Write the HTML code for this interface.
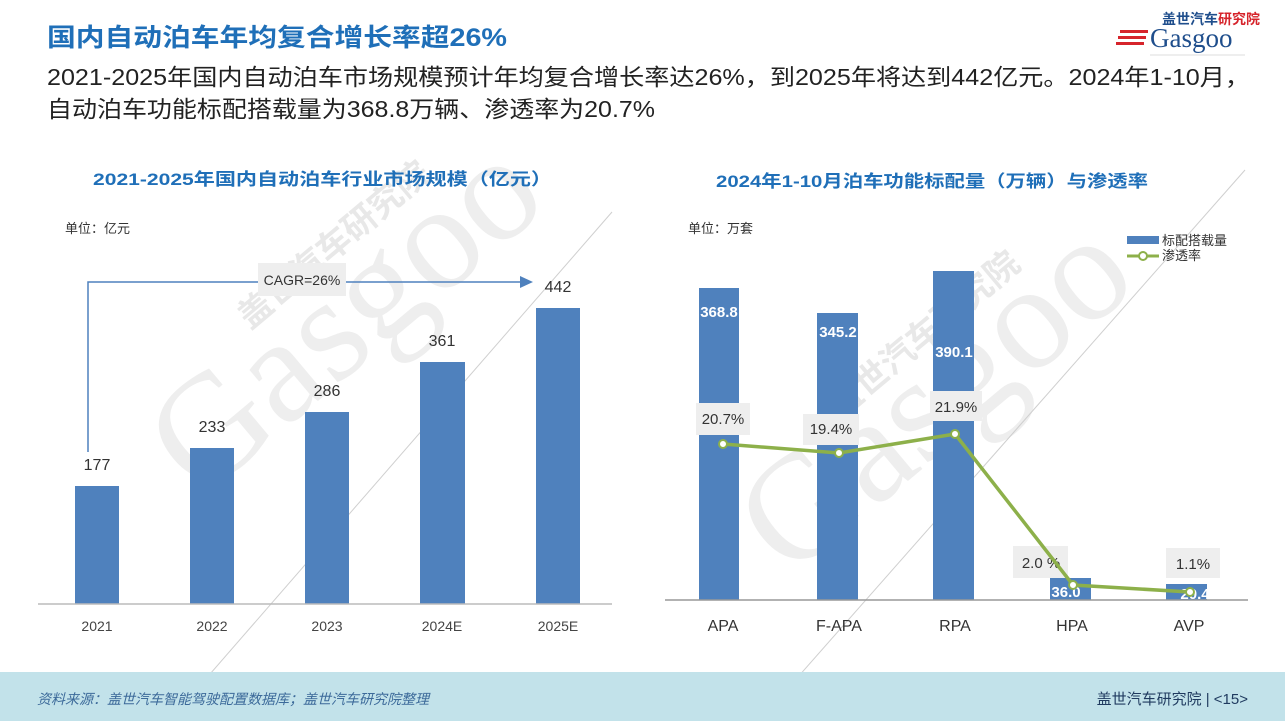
<!DOCTYPE html>
<html><head><meta charset="utf-8"><style>
body{margin:0;width:1285px;height:721px;overflow:hidden;background:#fff;font-family:"Liberation Sans","Noto Sans CJK SC",sans-serif;}
svg{position:absolute;left:0;top:0}
</style></head><body>
<svg width="1285" height="721" viewBox="0 0 1285 721" font-family="Liberation Sans, Noto Sans CJK SC, sans-serif">
<!-- watermark -->
<g fill="#eeeeee" font-family="Liberation Serif, serif" font-size="150">
<text transform="translate(200,500) rotate(-40)">Gasgoo</text>
<text transform="translate(790,580) rotate(-40)">Gasgoo</text>
</g>
<g fill="#e8e8e8" font-size="34" font-weight="bold" font-family="Noto Sans CJK SC, sans-serif">
<text transform="translate(250,330) rotate(-40)">盖世汽车研究院</text>
<text transform="translate(840,420) rotate(-40)">盖世汽车研究院</text>
</g>
<g stroke="#cfcfcf" stroke-width="1">
<line x1="170" y1="720" x2="612" y2="212"/>
<line x1="760" y1="720" x2="1245" y2="170"/>
</g>
<!-- header -->
<text x="47" y="46" font-size="25" font-weight="bold" fill="#1f6fb8" textLength="460" lengthAdjust="spacingAndGlyphs">国内自动泊车年均复合增长率超26%</text>
<text x="47" y="85" font-size="23" fill="#222" textLength="1203" lengthAdjust="spacingAndGlyphs">2021-2025年国内自动泊车市场规模预计年均复合增长率达26%，到2025年将达到442亿元。2024年1-10月，</text>
<text x="47" y="117" font-size="23" fill="#222" textLength="608" lengthAdjust="spacingAndGlyphs">自动泊车功能标配搭载量为368.8万辆、渗透率为20.7%</text>
<!-- logo -->
<text x="1162" y="24" font-size="14" font-weight="bold" fill="#1f4e8c">盖世汽车<tspan fill="#d6242b">研究院</tspan></text>
<text x="1150" y="47" font-size="27" fill="#1f4e8c" font-family="Liberation Serif, serif">Gasgoo</text>
<g fill="#d6242b"><rect x="1120" y="30" width="28" height="3"/><rect x="1118" y="36" width="28" height="3"/><rect x="1116" y="42" width="28" height="3"/></g>
<line x1="1150" y1="55" x2="1245" y2="55" stroke="#bbb" stroke-width="0.6"/>
<!-- left chart -->
<text x="93" y="185" font-size="17" font-weight="bold" fill="#1f6fb8" textLength="459" lengthAdjust="spacingAndGlyphs">2021-2025年国内自动泊车行业市场规模（亿元）</text>
<text x="65" y="233" font-size="13" fill="#333">单位：亿元</text>
<polyline points="88,452 88,282 520,282" fill="none" stroke="#4f81bd" stroke-width="1.5"/>
<polygon points="520,276 533,282 520,288" fill="#4f81bd"/>
<rect x="258" y="263" width="88" height="33" fill="#eeeeee"/>
<text x="302" y="285" font-size="14" fill="#333" text-anchor="middle">CAGR=26%</text>
<g fill="#4f81bd">
<rect x="75" y="486" width="44" height="118"/><rect x="190" y="448" width="44" height="156"/>
<rect x="305" y="412" width="44" height="192"/><rect x="420" y="362" width="45" height="242"/>
<rect x="536" y="308" width="44" height="296"/></g>
<line x1="38" y1="604" x2="612" y2="604" stroke="#bbb" stroke-width="1.5"/>
<g font-size="16" fill="#333" text-anchor="middle">
<text x="97" y="470">177</text><text x="212" y="432">233</text><text x="327" y="396">286</text><text x="442" y="346">361</text><text x="558" y="292">442</text></g>
<g font-size="14" fill="#444" text-anchor="middle">
<text x="97" y="631">2021</text><text x="212" y="631">2022</text><text x="327" y="631">2023</text><text x="442" y="631">2024E</text><text x="558" y="631">2025E</text></g>
<!-- right chart -->
<text x="716" y="187" font-size="17" font-weight="bold" fill="#1f6fb8" textLength="432" lengthAdjust="spacingAndGlyphs">2024年1-10月泊车功能标配量（万辆）与渗透率</text>
<text x="688" y="233" font-size="13" fill="#333">单位：万套</text>
<rect x="1127" y="236" width="32" height="8" fill="#4f81bd"/>
<text x="1162" y="245" font-size="13" fill="#333">标配搭载量</text>
<line x1="1127" y1="256" x2="1159" y2="256" stroke="#8db04a" stroke-width="3"/>
<circle cx="1143" cy="256" r="4" fill="#fff" stroke="#8db04a" stroke-width="2"/>
<text x="1162" y="260" font-size="13" fill="#333">渗透率</text>
<g fill="#4f81bd">
<rect x="699" y="288" width="40" height="312"/><rect x="817" y="313" width="41" height="287"/>
<rect x="933" y="271" width="41" height="329"/><rect x="1050" y="578" width="41" height="22"/>
<rect x="1166" y="584" width="41" height="16"/></g>
<line x1="665" y1="600" x2="1248" y2="600" stroke="#999" stroke-width="1.5"/>
<g font-size="15" font-weight="bold" fill="#fff" text-anchor="middle">
<text x="719" y="317">368.8</text><text x="838" y="337">345.2</text><text x="954" y="357">390.1</text>
<text x="1066" y="597">36.0</text><text x="1195" y="599">20.4</text></g>
<g fill="#eeeeee">
<rect x="696" y="403" width="54" height="32"/><rect x="803" y="414" width="56" height="31"/>
<rect x="930" y="391" width="52" height="30"/><rect x="1013" y="546" width="55" height="32"/>
<rect x="1166" y="548" width="54" height="30"/></g>
<g font-size="15" fill="#333" text-anchor="middle">
<text x="723" y="424">20.7%</text><text x="831" y="434">19.4%</text><text x="956" y="412">21.9%</text>
<text x="1041" y="568">2.0 %</text><text x="1193" y="569">1.1%</text></g>
<polyline points="723,444 839,453 955,434 1073,585 1190,592" fill="none" stroke="#8db04a" stroke-width="3.5"/>
<g fill="#fff" stroke="#8db04a" stroke-width="2">
<circle cx="723" cy="444" r="4"/><circle cx="839" cy="453" r="4"/><circle cx="955" cy="434" r="4"/><circle cx="1073" cy="585" r="4"/><circle cx="1190" cy="592" r="4"/></g>
<g font-size="16" fill="#333" text-anchor="middle">
<text x="723" y="631">APA</text><text x="839" y="631">F-APA</text><text x="955" y="631">RPA</text><text x="1072" y="631">HPA</text><text x="1189" y="631">AVP</text></g>
<!-- footer -->
<rect x="0" y="672" width="1285" height="49" fill="#c2e2ea"/>
<text x="37" y="704" font-size="14" font-style="italic" fill="#3c6a9a">资料来源：盖世汽车智能驾驶配置数据库；盖世汽车研究院整理</text>
<text x="1248" y="704" font-size="15" fill="#1f3a5f" text-anchor="end">盖世汽车研究院 | &lt;15&gt;</text>
</svg>
</body></html>
